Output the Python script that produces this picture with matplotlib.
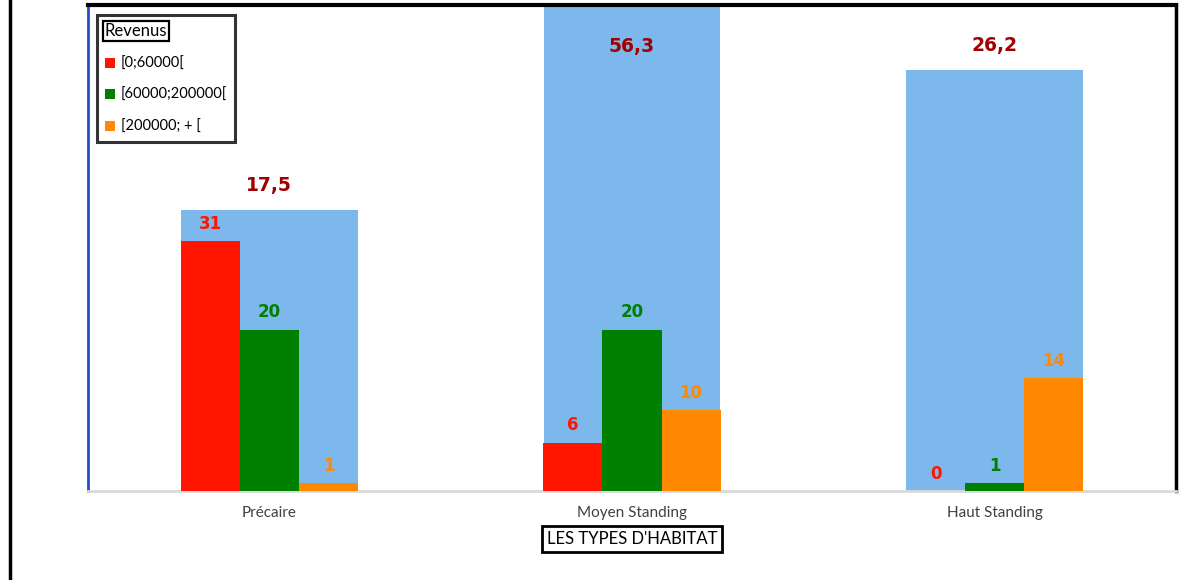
import numpy as np
import matplotlib.pyplot as plt
from matplotlib.patches import Patch
from matplotlib.lines import Line2D

categories = ["Précaire", "Moyen Standing", "Haut Standing"]
pourcentages = [17.5, 56.3, 26.2]
revenus = ["[0;60000[", "[60000;200000[", "[200000; + ["]
effectifs = {
    "[0;60000[": [31, 6, 0],
    "[60000;200000[": [20, 20, 1],
    "[200000; + [": [1, 10, 14],
}
couleurs = ["#FF1500", "#008000", "#FF8800"]
bleu = "#7DB8EC"

plt.rcParams['font.family'] = ['Lato', 'DejaVu Sans']

fig = plt.figure(figsize=(11.84, 5.8), dpi=100)
ax = fig.add_axes([88/1184, 89/580, 1088/1184, 486/580])
ax2 = ax.twinx()

x = np.arange(len(categories))

# barres de fond (pourcentages)
ax.bar(x, pourcentages, width=0.488, color=bleu, zorder=1)
ax.set_ylim(0, 30.26)
ax.set_xlim(-0.5, 2.5)
for xi, v in zip(x, pourcentages):
    lab = f"{v:.1f}".replace('.', ',')
    if v <= 30.26:
        ax.annotate(lab, (xi, v), xytext=(0, 11), textcoords="offset points",
                    ha='center', va='bottom', color="#A00000", fontsize=13.5,
                    fontweight='bold', family='DejaVu Sans')
    else:
        ax.annotate(lab, (xi, 30.26), xytext=(0, -30), textcoords="offset points",
                    ha='center', va='center', color="#A00000", fontsize=13.5,
                    fontweight='bold', family='DejaVu Sans')

# barres des effectifs
w = 0.163
for i, (r, c) in enumerate(zip(revenus, couleurs)):
    vals = effectifs[r]
    pos = x + (i - 1) * w
    ax2.bar(pos, vals, width=w, color=c, zorder=2)
    for p, v in zip(pos, vals):
        ax2.annotate(str(v), (p, v), xytext=(0, 6), textcoords="offset points",
                     ha='center', va='bottom', color=c, fontsize=12,
                     fontweight='bold', family='DejaVu Sans')
ax2.set_ylim(0, 60.3)

for a in (ax, ax2):
    a.set_yticks([])
    for s in a.spines.values():
        s.set_visible(False)

ax.spines['top'].set_visible(True)
ax.spines['top'].set_color('black')
ax.spines['top'].set_linewidth(3)
ax.spines['right'].set_visible(True)
ax.spines['right'].set_color('black')
ax.spines['right'].set_linewidth(2.5)
ax.spines['left'].set_visible(True)
ax.spines['left'].set_color('#1F4FD0')
ax.spines['left'].set_linewidth(2)
ax.spines['bottom'].set_visible(True)
ax.spines['bottom'].set_color('#D9D9D9')
ax.spines['bottom'].set_linewidth(2)

ax.set_xticks(x)
ax.set_xticklabels(categories, fontsize=11, color='#404040')
ax.tick_params(axis='x', length=0, pad=11)
ax.set_xlabel("LES TYPES D'HABITAT", fontsize=12, color='black', labelpad=8,
              bbox=dict(boxstyle='square,pad=0.3', facecolor='white',
                        edgecolor='black', linewidth=2))

handles = [Patch(facecolor=c, edgecolor='none') for c in couleurs]
leg = ax2.legend(handles, revenus, title="Revenus", loc='upper left',
                 bbox_to_anchor=(0.008, 0.979), borderaxespad=0, fontsize=10.5,
                 title_fontsize=12, fancybox=False, edgecolor='black',
                 handlelength=0.7, handleheight=0.7, handletextpad=0.4,
                 labelspacing=1.2, borderpad=0.55, alignment='left')
leg.get_frame().set_linewidth(2.2)
leg.get_title().set_bbox(dict(boxstyle='square,pad=0.12', facecolor='white',
                              edgecolor='black', linewidth=1.6))

# cadre gauche de l'image
fig.add_artist(Line2D([10/1184, 10/1184], [0, 1], color='black', linewidth=2.5))

fig.savefig("out.png", dpi=100)
